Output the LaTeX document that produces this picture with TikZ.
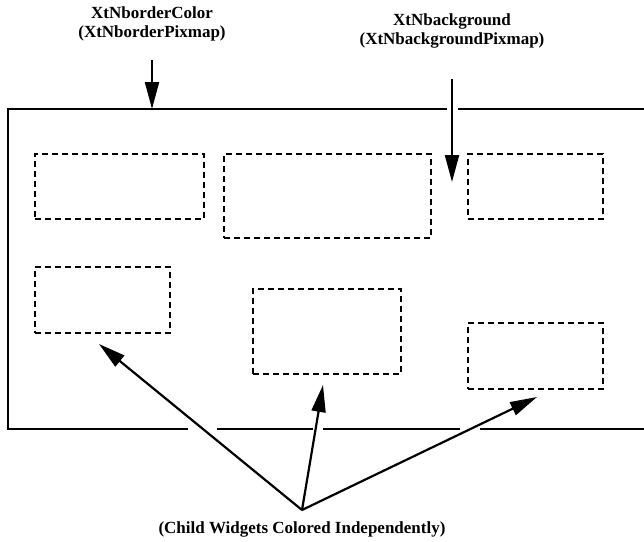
\documentclass[tikz,border=0pt]{standalone}
\usepackage{fontspec}
\setmainfont{Liberation Serif}
\usetikzlibrary{arrows.meta}
\begin{document}
\begin{tikzpicture}[x=1pt,y=-1pt,
  frame/.style={line width=1.8pt},
  child/.style={draw, dash pattern=on 6pt off 4pt, line width=1.4pt, inner sep=0pt},
  pointer/.style={line width=2.2pt, -{Triangle[length=27pt,width=14pt]}},
  caption/.style={font=\fontsize{17}{19}\selectfont\bfseries, align=center, inner sep=0pt},
  knockout/.style={white, line width=5pt}]
\useasboundingbox (0,0) rectangle (644,541);

% parent window frame, open on the right
\draw[frame] (644,109) -- (8,109) -- (8,429) -- (644,429);

% child widgets
\node[child, minimum width=169pt, minimum height=65pt] (c1) at (119.5,186.5) {};
\node[child, minimum width=207pt, minimum height=84pt] (c2) at (327.5,196) {};
\node[child, minimum width=135pt, minimum height=65pt] (c3) at (535.5,186.5) {};
\node[child, minimum width=135pt, minimum height=66pt] (c4) at (102.5,300) {};
\node[child, minimum width=148pt, minimum height=85pt] (c5) at (327,331.5) {};
\node[child, minimum width=135pt, minimum height=66pt] (c6) at (535.5,356) {};

% resource labels
\node[caption] (border) at (152,24) {XtNborderColor\\(XtNborderPixmap)};
\node[caption] (bg) at (452,31) {XtNbackground\\(XtNbackgroundPixmap)};
\node[caption] (kids) at (302,529) {(Child Widgets Colored Independently)};

\coordinate (borderstart) at (152,60);
\coordinate (borderhit) at (152,109);
\coordinate (bgstart) at (452,79);
\coordinate (bghit) at (452,182);
\coordinate (hub) at (302,510);
\coordinate (t1) at (99,344);
\coordinate (t2) at (323,385);
\coordinate (t3) at (537,397);

% breaks in the frame where the pointers cross it
\draw[knockout, line width=11pt] (452,103) -- (452,115);
\draw[knockout] (188,429) -- (217,429);
\draw[knockout] (313,429) -- (323,429);
\draw[knockout] (460,429) -- (480,429);

% pointers
\draw[pointer] (borderstart) -- (borderhit);
\draw[pointer] (bgstart) -- (bghit);
\draw[pointer] (hub) -- (t1);
\draw[pointer] (hub) -- (t2);
\draw[pointer] (hub) -- (t3);
\end{tikzpicture}
\end{document}
